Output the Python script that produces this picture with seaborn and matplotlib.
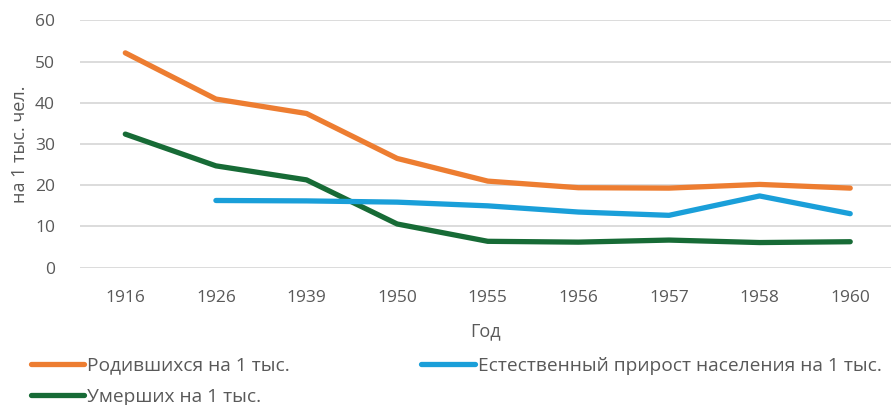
import pandas as pd
import numpy as np
import matplotlib
matplotlib.use("Agg")
import matplotlib.pyplot as plt
import seaborn as sns

years = ["1916", "1926", "1939", "1950", "1955", "1956", "1957", "1958", "1960"]
born = [52.1, 40.9, 37.4, 26.5, 21.0, 19.4, 19.3, 20.2, 19.3]
died = [32.4, 24.7, 21.3, 10.6, 6.4, 6.2, 6.7, 6.1, 6.3]
growth = [np.nan, 16.3, 16.2, 15.9, 15.0, 13.5, 12.7, 17.4, 13.1]

names = ["Родившихся на 1 тыс.", "Умерших на 1 тыс.",
         "Естественный прирост населения на 1 тыс."]
colors = ["#ED7D31", "#176B36", "#1A9FD9"]

df = pd.DataFrame({
    "Год": years * 3,
    "value": born + died + growth,
    "series": [names[0]] * 9 + [names[1]] * 9 + [names[2]] * 9,
})

sns.set_style("white")
plt.rcParams["font.family"] = ["Open Sans", "DejaVu Sans"]
gray = "#595959"

fig = plt.figure(figsize=(8.91, 4.05), dpi=100)
ax = fig.add_axes([80 / 891, 1 - 267.7 / 405, 811 / 891, 247.4 / 405])

sns.lineplot(data=df, x="Год", y="value", hue="series", hue_order=names,
             palette=colors, linewidth=3.8, ax=ax, legend=False,
             solid_capstyle="round", sort=False)

ax.set_ylim(0, 60)
ax.set_yticks(range(0, 61, 10))
ax.set_xlim(-0.5, 8.45)
ax.grid(axis="y", color="#D9D9D9", linewidth=1.3)
ax.set_axisbelow(True)
for s in ax.spines.values():
    s.set_visible(False)
ax.tick_params(axis="both", length=0, labelsize=12.5, labelcolor=gray)
ax.tick_params(axis="x", pad=16)
ax.tick_params(axis="y", pad=18)
ax.set_xlabel("Год", fontsize=13, color=gray, labelpad=12)
ax.set_ylabel("на 1 тыс. чел.", fontsize=13, color=gray, labelpad=4)

handles = [plt.Line2D([], [], color=c, linewidth=3.8, solid_capstyle="round")
           for c in colors]
fig.legend(handles, names, loc="lower left", bbox_to_anchor=(0.015, -0.045),
           ncol=2, frameon=False, fontsize=13.8, labelcolor=gray,
           handlelength=2.8, handletextpad=0.15, columnspacing=6.85,
           labelspacing=0.7)

fig.savefig("out.png", dpi=100)
